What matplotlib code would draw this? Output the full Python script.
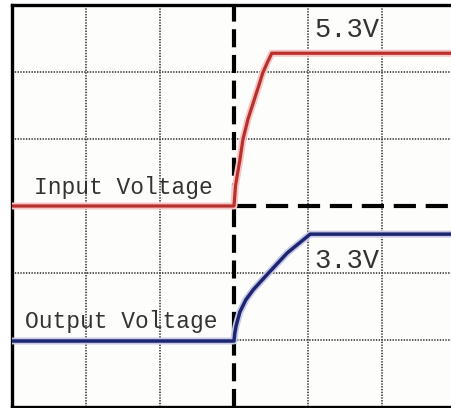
import matplotlib.pyplot as plt

plt.rcParams['lines.scale_dashes'] = False

# Screen divisions (6 x 6) and the trigger position
grid_x = [1, 2, 4, 5]
grid_y = [1, 2, 4, 5]
trigger_x = 3
trigger_y = 3

# Input voltage trace (divisions)
input_x = [0, 3.0, 3.02, 3.05, 3.08, 3.12, 3.19, 3.26, 3.33, 3.39, 3.45, 3.51, 6.2]
input_y = [3.0, 3.0, 3.3, 3.5, 3.69, 3.99, 4.3, 4.54, 4.78, 4.99, 5.14, 5.28, 5.28]

# Output voltage trace (divisions)
output_x = [0, 3.0, 3.01, 3.03, 3.08, 3.16, 3.26, 3.45, 3.72, 4.03, 6.2]
output_y = [0.985, 0.985, 1.10, 1.22, 1.42, 1.60, 1.75, 1.98, 2.30, 2.58, 2.58]

fig = plt.figure(figsize=(4.51, 4.08), dpi=100)
fig.patch.set_facecolor('white')
ax = fig.add_axes([12 / 451, 1 / 408, 444 / 451, 402 / 408])
ax.set_xlim(0, 6)
ax.set_ylim(0, 6)
ax.set_xticks([])
ax.set_yticks([])
ax.set_facecolor('#fdfdfb')
for side in ['left', 'top', 'bottom']:
    ax.spines[side].set_linewidth(2.4)
    ax.spines[side].set_color('black')
ax.spines['right'].set_visible(False)

# dotted graticule
for gx in grid_x:
    ax.axvline(gx, color='#3a3a3a', lw=1.2, ls=(0, (1, 1)), zorder=1)
for gy in grid_y:
    ax.axhline(gy, color='#3a3a3a', lw=1.2, ls=(0, (1, 1)), zorder=1)
ax.plot([0, trigger_x], [trigger_y, trigger_y], color='#3a3a3a', lw=1.2, ls=(0, (1, 1)), zorder=1)

# trigger markers
ax.axvline(trigger_x, color='black', lw=3.0, dashes=(13, 5.5), zorder=2)
ax.plot([trigger_x, 6.2], [trigger_y, trigger_y], color='black', lw=3.0,
        dashes=(16, 7), zorder=2)

# traces
ax.plot(input_x, input_y, color='#f6c4c4', lw=5, solid_capstyle='butt', zorder=3)
ax.plot(input_x, input_y, color='#b8302c', lw=2.3, zorder=4)
ax.plot(output_x, output_y, color='#c8c8e6', lw=5, solid_capstyle='butt', zorder=3)
ax.plot(output_x, output_y, color='#1c2670', lw=2.5, zorder=4)

mono = 'Liberation Mono'
ax.text(0.30, 3.10, 'Input Voltage', fontsize=16.5, family=mono, color='#333333',
        va='bottom', ha='left', zorder=5)
ax.text(0.17, 1.10, 'Output Voltage', fontsize=16.5, family=mono, color='#333333',
        va='bottom', ha='left', zorder=5)
ax.text(4.09, 5.82, '5.3V', fontsize=19.5, family=mono, color='#333333',
        va='top', ha='left', zorder=5)
ax.text(4.09, 2.38, '3.3V', fontsize=19.5, family=mono, color='#333333',
        va='top', ha='left', zorder=5)

plt.savefig('out.png', dpi=100)
